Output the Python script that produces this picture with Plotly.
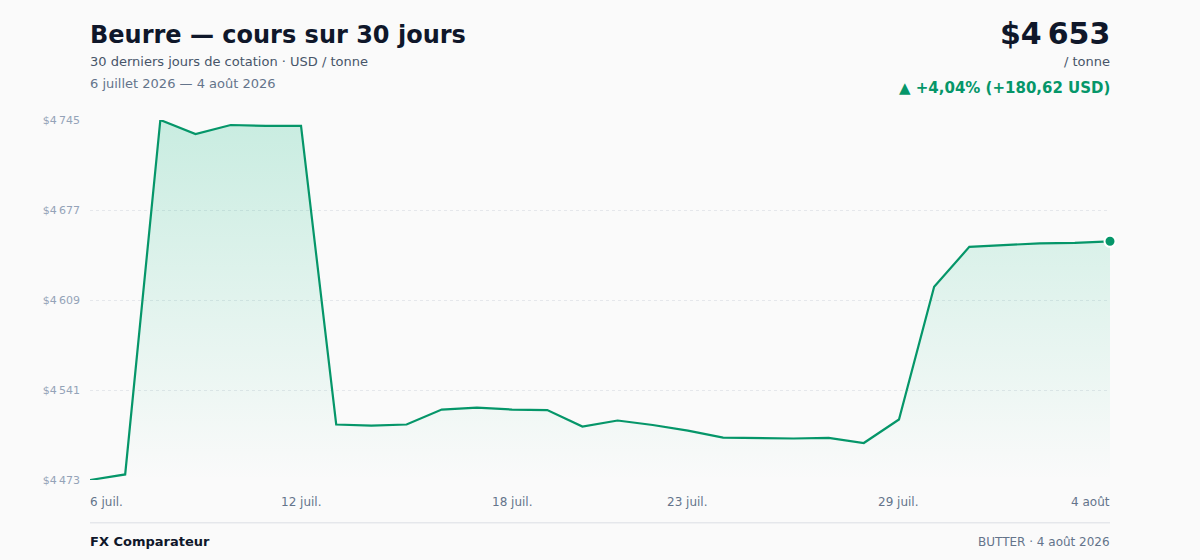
import pandas as pd
import plotly.graph_objects as go

# daily butter quotes, USD / tonne
dates = pd.date_range("2026-07-06", "2026-08-04", freq="D")
prices = [4472.60, 4476.8, 4745.0, 4734.4, 4741.2, 4740.5, 4740.6, 4514.6, 4513.8, 4514.6,
          4525.9, 4527.4, 4525.9, 4525.5, 4513.0, 4517.6, 4514.2, 4510.0, 4504.7, 4504.4,
          4504.0, 4504.4, 4500.6, 4518.4, 4618.8, 4649.0, 4650.5, 4651.7, 4652.0, 4653.22]
tick_idx = [0, 6, 12, 17, 23, 29]
tick_labels = ["6 juil.", "12 juil.", "18 juil.", "23 juil.", "29 juil.", "4 août"]

GREEN = "#059669"
FONT = "DejaVu Sans"
NNBSP = "\u202f"


def money(v):
    return "$" + f"{v:,.0f}".replace(",", NNBSP)


ymin, ymax = min(prices), max(prices)
step = (ymax - ymin) / 4
yticks = [ymin + i * step for i in range(5)]

change = prices[-1] - prices[0]
pct = change / prices[0] * 100
change_txt = f"▲ +{pct:.2f}% (+{change:.2f} USD)".replace(".", ",")

fig = go.Figure()
fig.add_trace(go.Scatter(
    x=dates, y=prices, mode="lines",
    line=dict(color=GREEN, width=2.2),
    fill="tozeroy",
    fillgradient=dict(type="vertical", start=ymin, stop=ymax,
                      colorscale=[[0, "rgba(16,185,129,0.0)"], [1, "rgba(16,185,129,0.21)"]]),
    hoverinfo="skip", showlegend=False,
))
fig.add_trace(go.Scatter(
    x=[dates[-1]], y=[prices[-1]], mode="markers",
    marker=dict(color=GREEN, size=11, line=dict(color="white", width=2)),
    cliponaxis=False, hoverinfo="skip", showlegend=False,
))

fig.update_layout(
    width=1200, height=560,
    margin=dict(l=90, r=90, t=120, b=80),
    paper_bgcolor="#fafafa", plot_bgcolor="#fafafa",
    font=dict(family=FONT, color="#0f172a"),
    xaxis=dict(range=[dates[0], dates[-1]], showgrid=False, showticklabels=False,
               zeroline=False, showline=False, fixedrange=True),
    yaxis=dict(range=[ymin, ymax], tickvals=yticks, ticktext=[money(v) for v in yticks],
               tickfont=dict(size=11, color="#94a3b8"), showgrid=True,
               gridcolor="#e5e7eb", griddash="dot", gridwidth=1,
               zeroline=False, showline=False, ticklabelstandoff=9),
)

# x tick labels, first left-aligned, last right-aligned
for k, (i, lab) in enumerate(zip(tick_idx, tick_labels)):
    if k == 0:
        anchor, shift = "left", -2
    elif k == len(tick_idx) - 1:
        anchor, shift = "right", 2
    else:
        anchor, shift = "center", 0
    fig.add_annotation(x=dates[i], y=-0.058, xref="x", yref="paper", text=lab,
                       xshift=shift, yshift=-1,
                       showarrow=False, xanchor=anchor, yanchor="middle",
                       font=dict(size=12, color="#64748b"))


def header(text, x, y, size, color, bold=False):
    anchor = "left" if x == 0 else "right"
    fig.add_annotation(x=x, y=y, xref="paper", yref="paper",
                       text=f"<b>{text}</b>" if bold else text,
                       xshift=-2 if x == 0 else 2, yshift=-1, showarrow=False,
                       xanchor=anchor, yanchor="middle", font=dict(size=size, color=color))


header("Beurre — cours sur 30 jours", 0, 1.239, 24, "#0f172a", bold=True)
header("30 derniers jours de cotation · USD / tonne", 0, 1.164, 13, "#475569")
header("6 juillet 2026 — 4 août 2026", 0, 1.103, 13, "#64748b")
header(money(prices[-1]), 1, 1.244, 30, "#0f172a", bold=True)
header("/ tonne", 1, 1.164, 13, "#475569")
header(change_txt, 1, 1.092, 15, GREEN, bold=True)

# footer
fig.add_shape(type="line", xref="paper", yref="paper", x0=0, x1=1, y0=-0.119, y1=-0.119,
              line=dict(color="#e5e7eb", width=1.5))
header("FX Comparateur", 0, -0.169, 13, "#0f172a", bold=True)
header("BUTTER · 4 août 2026", 1, -0.169, 12, "#64748b")

fig.write_html("out.html", config={"displayModeBar": False},
               post_script="document.body.style.margin='0';document.body.style.background='#fafafa';")
